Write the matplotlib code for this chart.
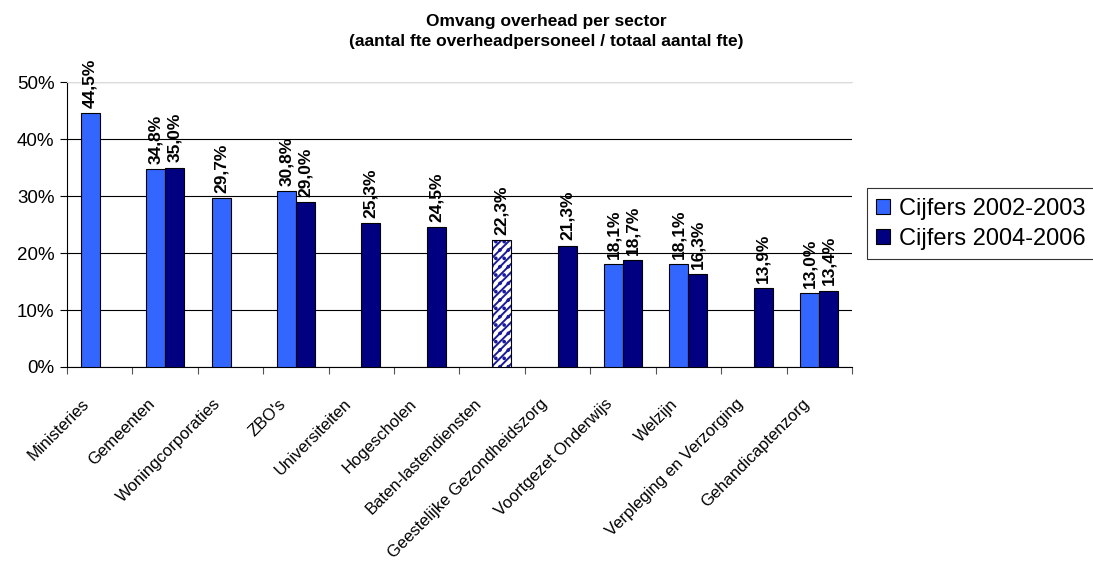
import numpy as np
import matplotlib.pyplot as plt
import matplotlib.transforms as mtransforms

plt.rcParams['font.family'] = ['Liberation Sans', 'DejaVu Sans']
plt.rcParams['hatch.linewidth'] = 1.4

sectoren = ['Ministeries', 'Gemeenten', 'Woningcorporaties', "ZBO's", 'Universiteiten',
            'Hogescholen', 'Baten-lastendiensten', 'Geestelijke Gezondheidszorg',
            'Voortgezet Onderwijs', 'Welzijn', 'Verpleging en Verzorging', 'Gehandicaptenzorg']
cijfers_2002 = [44.5, 34.8, 29.7, 30.8, np.nan, np.nan, np.nan, np.nan, 18.1, 18.1, np.nan, 13.0]
cijfers_2004 = [np.nan, 35.0, np.nan, 29.0, 25.3, 24.5, 22.3, 21.3, 18.7, 16.3, 13.9, 13.4]
gearceerd = 6  # Baten-lastendiensten: afwijkende bron

licht = '#3366FF'
donker = '#000080'

fig = plt.figure(figsize=(10.93, 5.72), dpi=100)
ax = fig.add_axes([0.0613, 0.3584, 0.7182, 0.4982])

x = np.arange(len(sectoren))
w = 0.29

b1 = ax.bar(x - w/2, cijfers_2002, w, color=licht, edgecolor='black', linewidth=0.8,
            label='Cijfers 2002-2003', zorder=3)
b2 = ax.bar(x + w/2, cijfers_2004, w, color=donker, edgecolor='black', linewidth=0.8,
            label='Cijfers 2004-2006', zorder=3)

# gearceerde balk
p = b2[gearceerd]
p.set_facecolor('white')
p.set_edgecolor('#1a1a9a')
p.set_hatch('////..')
p.set_linewidth(0)
ax.bar(x[gearceerd] + w/2, cijfers_2004[gearceerd], w, fill=False, edgecolor='black',
       linewidth=0.8, zorder=4)

for bars, vals in [(b1, cijfers_2002), (b2, cijfers_2004)]:
    for r, v in zip(bars, vals):
        if np.isnan(v):
            continue
        ax.text(r.get_x() + r.get_width()/2, v + 0.9, f'{v:.1f}%'.replace('.', ','),
                rotation=90, ha='center', va='bottom', fontsize=12.5, fontweight='bold')

ax.set_xlim(-0.5, len(sectoren) - 0.5)
ax.set_ylim(0, 50)
ax.set_yticks([0, 10, 20, 30, 40, 50])
ax.set_yticklabels(['0%', '10%', '20%', '30%', '40%', '50%'], fontsize=13.5)
ax.yaxis.grid(True, color='black', linewidth=0.8, zorder=0)
ax.set_axisbelow(True)

ax.set_xticks(np.arange(len(sectoren) + 1) - 0.5)
ax.set_xticklabels([])
ax.set_xticks(x, minor=True)
ax.set_xticklabels(sectoren, minor=True, rotation=45, ha='right', rotation_mode='anchor',
                   fontsize=12)
ax.tick_params(axis='x', which='minor', length=0, pad=21)
ax.tick_params(axis='x', which='major', length=5, color='#555555')
ax.tick_params(axis='y', length=5, direction='out', pad=4)
schuif = mtransforms.ScaledTranslation(-18/100, 0, fig.dpi_scale_trans)
for lbl in ax.get_xticklabels(minor=True):
    lbl.set_transform(lbl.get_transform() + schuif)

ax.spines['right'].set_visible(False)
ax.spines['top'].set_color('#dddddd')
ax.spines['left'].set_linewidth(0.8)
ax.spines['bottom'].set_linewidth(0.8)

fig.text(0.5, 0.976, 'Omvang overhead per sector\n(aantal fte overheadpersoneel / totaal aantal fte)',
         ha='center', va='top', fontsize=12.5, fontweight='bold', linespacing=1.45)

leg = fig.legend(loc='upper left', bbox_to_anchor=(0.793, 0.671), fontsize=17, frameon=True,
                 fancybox=False, edgecolor='black', handlelength=0.6, handleheight=0.6,
                 handletextpad=0.38, borderpad=0.4, labelspacing=0.35, borderaxespad=0)
leg.get_frame().set_linewidth(0.8)

fig.savefig('out.png', dpi=100)
